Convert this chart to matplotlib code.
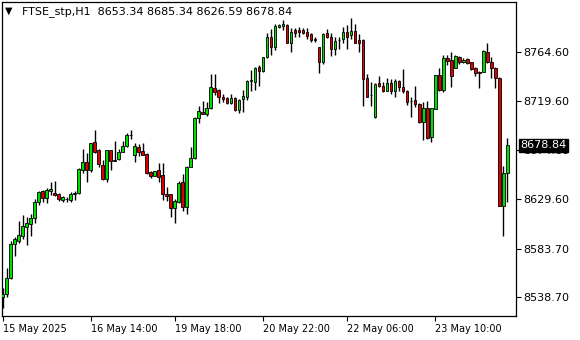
import numpy as np
import matplotlib
matplotlib.use('Agg')
import matplotlib.pyplot as plt
import matplotlib.transforms as mtransforms

symbol = 'FTSE_stp,H1'

opens = [8538.7, 8541.5, 8556.2, 8587.6, 8590.9, 8595.5, 8603.8, 8606.0, 8612.1, 8626.3,
         8636.7, 8630.5, 8636.7, 8634.9, 8633.7, 8628.4, 8629.0, 8628.7, 8633.7, 8634.6,
         8656.1, 8663.2, 8656.1, 8681.6, 8674.5, 8660.7, 8647.8, 8674.2, 8665.3, 8665.9,
         8672.9, 8677.9, 8688.3, 8669.6, 8677.0, 8673.6, 8671.1, 8654.2, 8650.8, 8656.1,
         8651.4, 8633.9, 8633.9, 8620.7, 8626.8, 8645.0, 8622.2, 8659.1, 8666.8, 8703.7,
         8709.3, 8707.7, 8712.9, 8731.4, 8729.8, 8723.6, 8722.7, 8717.6, 8722.2, 8711.4,
         8721.8, 8723.6, 8737.8, 8737.5, 8751.3, 8747.3, 8760.0, 8778.4, 8769.7, 8788.2,
         8788.8, 8789.7, 8773.4, 8784.9, 8785.1, 8785.1, 8783.3, 8781.5, 8776.5, 8769.2,
         8755.4, 8782.1, 8779.0, 8767.3, 8775.9, 8776.5, 8783.0, 8780.8, 8783.9, 8775.9,
         8775.9, 8740.6, 8725.2, 8704.6, 8736.0, 8733.5, 8729.2, 8736.0, 8729.2, 8738.1,
         8732.3, 8728.9, 8719.7, 8720.6, 8716.6, 8700.6, 8712.9, 8686.2, 8712.3, 8743.4,
         8729.8, 8759.0, 8757.5, 8750.4, 8760.5, 8755.4, 8758.4, 8755.4, 8749.8, 8746.7,
         8746.7, 8764.6, 8755.4, 8749.8, 8740.6, 8623.1, 8653.34]
highs = [8547.0, 8565.4, 8590.9, 8594.6, 8609.3, 8614.6, 8613.0, 8615.2, 8629.6, 8637.0,
         8637.6, 8639.2, 8644.7, 8645.9, 8634.6, 8632.1, 8630.9, 8636.1, 8636.4, 8658.2,
         8675.4, 8672.0, 8681.2, 8692.9, 8675.4, 8665.3, 8674.5, 8674.5, 8683.1, 8675.4,
         8683.1, 8689.9, 8692.9, 8680.7, 8680.0, 8680.7, 8672.0, 8654.9, 8655.4, 8662.2,
         8662.8, 8640.7, 8634.0, 8629.3, 8645.9, 8652.1, 8659.5, 8677.0, 8704.6, 8715.1,
         8719.7, 8718.8, 8744.6, 8744.6, 8730.5, 8725.9, 8723.4, 8725.9, 8723.1, 8721.2,
         8729.8, 8739.0, 8748.3, 8751.3, 8752.9, 8760.5, 8782.1, 8785.8, 8790.7, 8790.7,
         8794.4, 8790.7, 8786.7, 8786.7, 8788.2, 8786.7, 8786.7, 8782.6, 8779.0, 8769.7,
         8782.6, 8785.8, 8782.6, 8779.0, 8779.0, 8788.2, 8789.7, 8795.9, 8790.7, 8781.2,
         8776.6, 8744.6, 8737.5, 8736.0, 8742.7, 8737.5, 8740.6, 8739.7, 8739.7, 8739.0,
         8748.9, 8729.8, 8723.6, 8733.5, 8717.6, 8719.0, 8719.9, 8713.1, 8743.7, 8749.8,
         8762.1, 8762.1, 8764.6, 8762.1, 8761.2, 8759.0, 8759.3, 8756.0, 8751.3, 8747.6,
         8766.7, 8772.9, 8760.5, 8751.3, 8741.5, 8659.7, 8685.34]
lows = [8528.5, 8539.2, 8555.3, 8577.0, 8589.0, 8592.4, 8586.9, 8595.5, 8607.5, 8624.1,
        8626.8, 8625.9, 8632.7, 8632.4, 8627.8, 8626.8, 8626.8, 8626.8, 8628.4, 8633.7,
        8653.6, 8645.3, 8653.9, 8672.0, 8659.1, 8646.8, 8645.3, 8656.1, 8664.0, 8665.3,
        8672.4, 8677.0, 8684.6, 8663.7, 8669.0, 8669.6, 8652.4, 8649.0, 8650.5, 8644.7,
        8628.4, 8627.8, 8613.0, 8607.5, 8625.9, 8618.3, 8615.2, 8658.5, 8666.2, 8699.7,
        8707.5, 8705.8, 8712.0, 8725.2, 8718.1, 8719.0, 8716.9, 8717.4, 8710.7, 8708.9,
        8709.5, 8720.6, 8729.2, 8729.8, 8733.5, 8746.7, 8759.0, 8762.1, 8766.7, 8786.7,
        8785.1, 8772.9, 8765.1, 8779.0, 8779.0, 8781.2, 8776.8, 8774.4, 8774.4, 8745.8,
        8753.8, 8777.5, 8761.2, 8762.1, 8767.6, 8773.4, 8767.3, 8776.6, 8773.2, 8765.1,
        8715.1, 8723.1, 8715.1, 8704.4, 8732.9, 8728.3, 8728.9, 8726.1, 8723.6, 8729.2,
        8727.3, 8716.0, 8705.2, 8713.9, 8699.1, 8683.7, 8685.1, 8682.2, 8712.0, 8729.2,
        8728.3, 8752.9, 8732.9, 8749.8, 8753.8, 8754.4, 8753.8, 8748.3, 8742.7, 8731.4,
        8746.5, 8754.4, 8740.6, 8731.4, 8622.5, 8595.5, 8626.59]
closes = [8541.7, 8556.2, 8587.6, 8592.4, 8596.1, 8604.4, 8606.9, 8611.8, 8626.6, 8635.8,
          8630.5, 8637.3, 8638.5, 8633.3, 8629.6, 8631.2, 8629.3, 8633.9, 8635.1, 8657.0,
          8663.2, 8656.1, 8680.7, 8672.9, 8661.3, 8647.8, 8674.2, 8664.6, 8664.1, 8672.4,
          8677.9, 8688.3, 8688.5, 8678.2, 8672.9, 8670.2, 8653.6, 8650.8, 8655.1, 8649.3,
          8633.7, 8632.4, 8620.7, 8627.8, 8644.3, 8622.2, 8658.5, 8666.8, 8703.7, 8710.5,
          8707.7, 8713.2, 8732.9, 8728.3, 8723.6, 8721.2, 8717.6, 8722.7, 8711.4, 8720.6,
          8724.0, 8738.1, 8739.0, 8749.8, 8747.3, 8760.0, 8778.4, 8769.7, 8789.1, 8790.0,
          8790.7, 8773.4, 8783.6, 8782.7, 8783.3, 8782.1, 8779.9, 8775.9, 8776.3, 8755.4,
          8781.5, 8778.4, 8767.3, 8775.3, 8776.1, 8783.0, 8779.0, 8783.9, 8773.4, 8773.4,
          8739.7, 8723.6, 8725.0, 8735.1, 8733.8, 8729.2, 8736.0, 8729.2, 8738.4, 8732.3,
          8728.9, 8718.5, 8719.5, 8716.9, 8700.0, 8712.9, 8685.3, 8712.9, 8743.4, 8729.8,
          8759.0, 8756.8, 8743.0, 8761.2, 8755.4, 8757.5, 8755.0, 8748.9, 8745.2, 8745.2,
          8765.8, 8755.4, 8749.8, 8740.6, 8623.1, 8653.0, 8678.84]

price_ticks = [8764.60, 8719.60, 8674.60, 8629.60, 8583.70, 8538.70]
time_tick_bars = [0, 22, 43, 65, 86, 108]
time_tick_labels = ['15 May 2025', '16 May 14:00', '19 May 18:00',
                    '20 May 22:00', '22 May 06:00', '23 May 10:00']

o = np.array(opens)
h = np.array(highs)
l = np.array(lows)
c = np.array(closes)
x = np.arange(len(o))
up = c >= o
colors = np.where(up, '#00dd00', '#dd0000')

W, H = 580, 340
fig = plt.figure(figsize=(W / 100, H / 100), dpi=100)
fig.patch.set_facecolor('white')
ax = fig.add_axes([2 / W, (H - 316) / H, 514 / W, 314 / H])

# wicks, then bodies on top
ax.vlines(x, l, h, color='black', linewidth=1.0, zorder=2)
ax.bar(x, np.abs(c - o), bottom=np.minimum(o, c), width=0.7,
       color=colors, edgecolor='black', linewidth=0.6, zorder=3)

ax.set_xlim(-0.17, 128.2)
ax.set_ylim(8521.5, 8811.0)

for s in ax.spines.values():
    s.set_color('black')
    s.set_linewidth(0.9)

ax.yaxis.tick_right()
ax.set_yticks(price_ticks)
ax.set_yticklabels([f'{v:.2f}' for v in price_ticks])
ax.tick_params(axis='y', direction='out', length=3.5, width=0.8, pad=2,
               labelsize=8, colors='black')

ax.set_xticks(time_tick_bars)
ax.set_xticklabels(time_tick_labels, ha='left')
ax.tick_params(axis='x', direction='out', length=3.5, width=0.8, pad=2,
               labelsize=7, colors='black')

# current price marker on the price scale
trans = mtransforms.blended_transform_factory(ax.transAxes, ax.transData)
ax.text(1.0 + 4.5 / 514, c[-1], f'{c[-1]:.2f}', transform=trans,
        ha='left', va='center', color='white', fontsize=8, zorder=5,
        bbox=dict(boxstyle='square,pad=0.12', fc='black', ec='black'),
        clip_on=False)

# header: symbol, timeframe and OHLC of last bar
fig.text(5 / W, 1 - 11 / H, '\u25bc', fontsize=7, va='center', ha='left', color='black')
fig.text(22 / W, 1 - 12 / H,
         f'{symbol}  {o[-1]:.2f} {h[-1]:.2f} {l[-1]:.2f} {c[-1]:.2f}',
         fontsize=8, va='center', ha='left', color='black')

fig.savefig('out.png', dpi=100, facecolor='white')
